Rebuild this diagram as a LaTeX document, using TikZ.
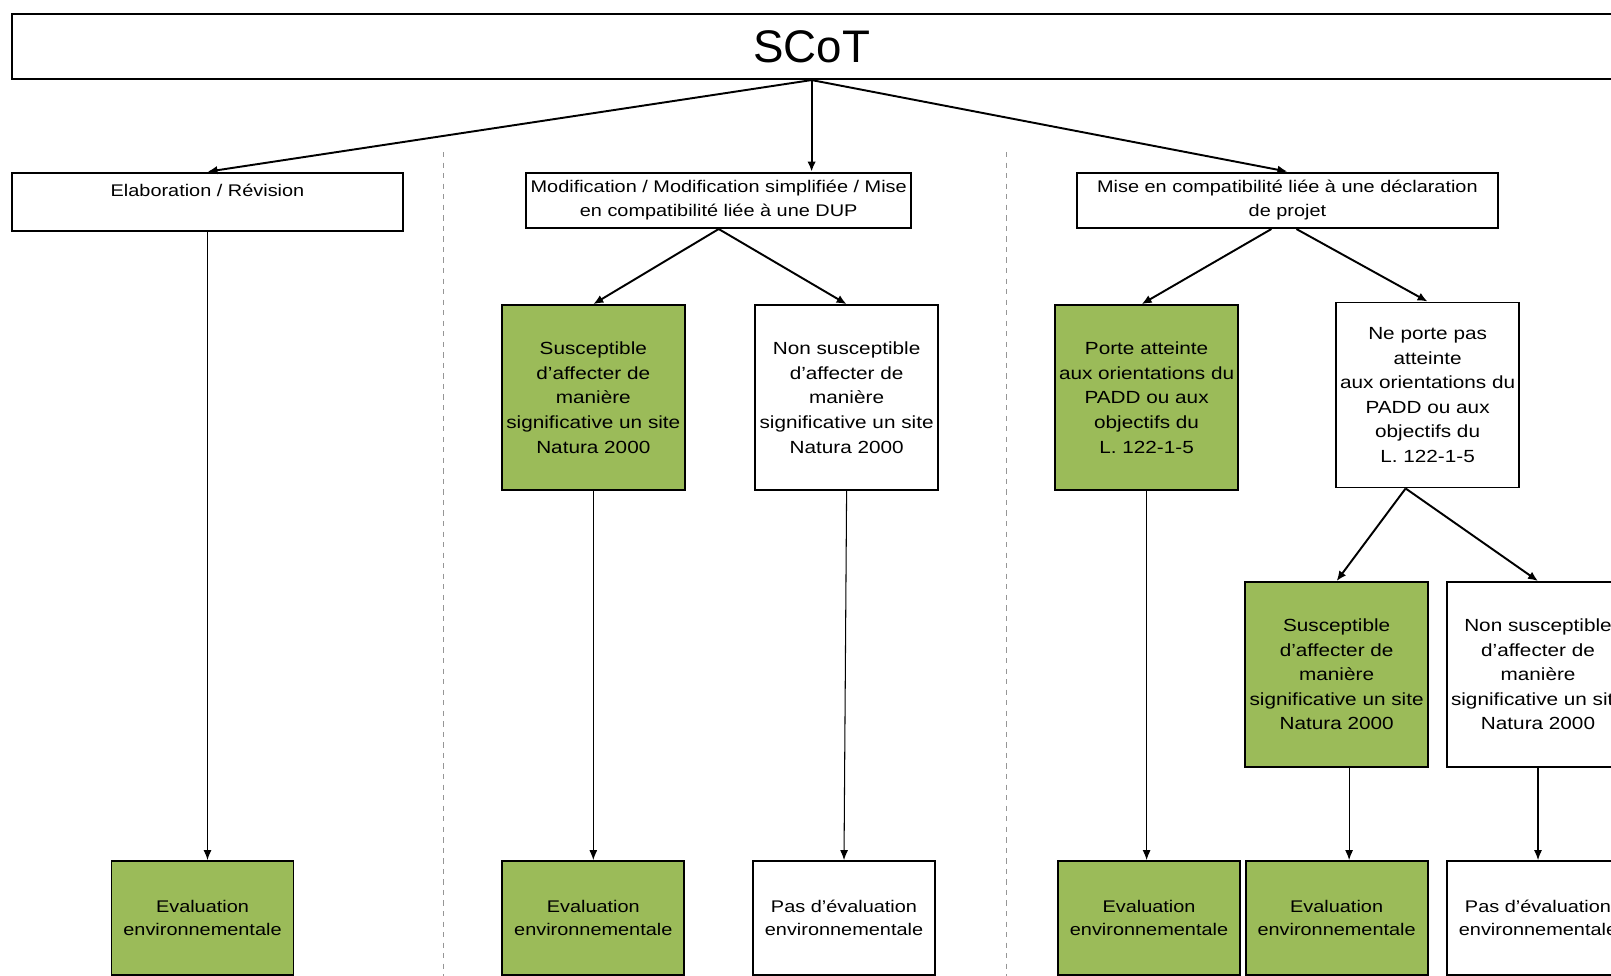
\documentclass[tikz,border=0pt]{standalone}
\usepackage{fontspec}
\setmainfont{Liberation Sans}[FakeStretch=1.18]
\newfontfamily\scotfont{Liberation Sans}
\usetikzlibrary{arrows.meta,positioning,calc}
\definecolor{natgreen}{RGB}{155,187,89}
\definecolor{sepgray}{RGB}{150,150,150}

\begin{document}
\begin{tikzpicture}[x=0.02cm, y=-0.02cm,
    box/.style={draw, line width=1.1pt, rectangle, align=center, inner sep=0pt},
    headbox/.style={box, font=\fontsize{9.6}{13.4}\selectfont},
    casebox/.style={box, minimum width=3.66cm, minimum height=3.7cm, font=\fontsize{10}{14}\selectfont},
    evalbox/.style={box, minimum width=3.64cm, minimum height=2.28cm, font=\fontsize{9.6}{13.4}\selectfont},
    arr/.style={line width=1.1pt, -{Latex[length=2mm,width=1.7mm]}},
    varr/.style={line width=0.6pt, -{Latex[length=2mm,width=1.6mm]}},
    sep/.style={sepgray, line width=0.5pt, dash pattern=on 3pt off 3pt}]
  \useasboundingbox (0,0) rectangle (1611,975);

  % top
  \node[box, minimum width=32cm, minimum height=1.294cm, font=\scotfont\fontsize{26}{30}\selectfont] (scot) at (811.6,46.75) {SCoT};

  % procedures
  \node[headbox, minimum width=7.81cm, minimum height=1.17cm] (elab) at (207.5,201.9) {Elaboration / Révision\\~};
  \node[headbox, minimum width=7.71cm, minimum height=1.11cm] (modif) at (718.7,200.3) {Modification / Modification simplifiée / Mise\\en compatibilité liée à une DUP};
  \node[headbox, minimum width=8.43cm, minimum height=1.11cm] (mise) at (1287.4,200.3) {Mise en compatibilité liée à une déclaration\\de projet};

  \draw[sep] (443.8,152) -- (443.8,980);
  \draw[sep] (1006.9,152) -- (1006.9,980);

  % cases
  \node[casebox, fill=natgreen] (susc1) at (593.3,397.6) {Susceptible\\d'affecter de\\manière\\significative un site\\Natura 2000};
  \node[casebox] (nonsusc1) at (846.6,397.6) {Non susceptible\\d'affecter de\\manière\\significative un site\\Natura 2000};
  \node[casebox, fill=natgreen] (atteinte) at (1146.6,397.6) {Porte atteinte\\aux orientations du\\PADD ou aux\\objectifs du\\L. 122-1-5};
  \node[casebox] (nonatteinte) at (1427.6,395) {Ne porte pas\\atteinte\\aux orientations du\\PADD ou aux\\objectifs du\\L. 122-1-5};
  \node[casebox, fill=natgreen] (susc2) at (1336.6,674.5) {Susceptible\\d'affecter de\\manière\\significative un site\\Natura 2000};
  \node[casebox] (nonsusc2) at (1538,674.5) {Non susceptible\\d'affecter de\\manière\\significative un site\\Natura 2000};

  % results
  \node[evalbox, fill=natgreen] (eval1) at (202.5,918) {Evaluation\\environnementale};
  \node[evalbox, fill=natgreen] (eval2) at (593.3,918) {Evaluation\\environnementale};
  \node[evalbox] (pas1) at (844,918) {Pas d'évaluation\\environnementale};
  \node[evalbox, fill=natgreen] (eval3) at (1149,918) {Evaluation\\environnementale};
  \node[evalbox, fill=natgreen] (eval4) at (1336.6,918) {Evaluation\\environnementale};
  \node[evalbox] (pas2) at (1538,918) {Pas d'évaluation\\environnementale};

  \draw[arr] (scot.south) -- (elab.north);
  \draw[arr] (scot.south) -- (scot.south |- modif.north);
  \draw[arr] (scot.south) -- (mise.north);
  \draw[arr] (modif.south) -- (susc1.north);
  \draw[arr] (modif.south) -- (nonsusc1.north);
  \draw[arr] ([xshift=-0.32cm]mise.south) -- ([xshift=-0.1cm]atteinte.north);
  \draw[arr] ([xshift=0.18cm]mise.south) -- (nonatteinte.north);
  \draw[arr] ([xshift=-0.44cm]nonatteinte.south) -- (susc2.north);
  \draw[arr] ([xshift=-0.44cm]nonatteinte.south) -- (nonsusc2.north);

  \draw[varr] (elab.south) -- (elab.south |- eval1.north);
  \draw[varr] (susc1.south) -- (eval2.north);
  \draw[varr] (nonsusc1.south) -- (pas1.north);
  \draw[varr] (atteinte.south) -- (atteinte.south |- eval3.north);
  \draw[varr] ([xshift=0.25cm]susc2.south) -- ([xshift=0.25cm]eval4.north);
  \draw[varr] (nonsusc2.south) -- (pas2.north);
\end{tikzpicture}
\end{document}
